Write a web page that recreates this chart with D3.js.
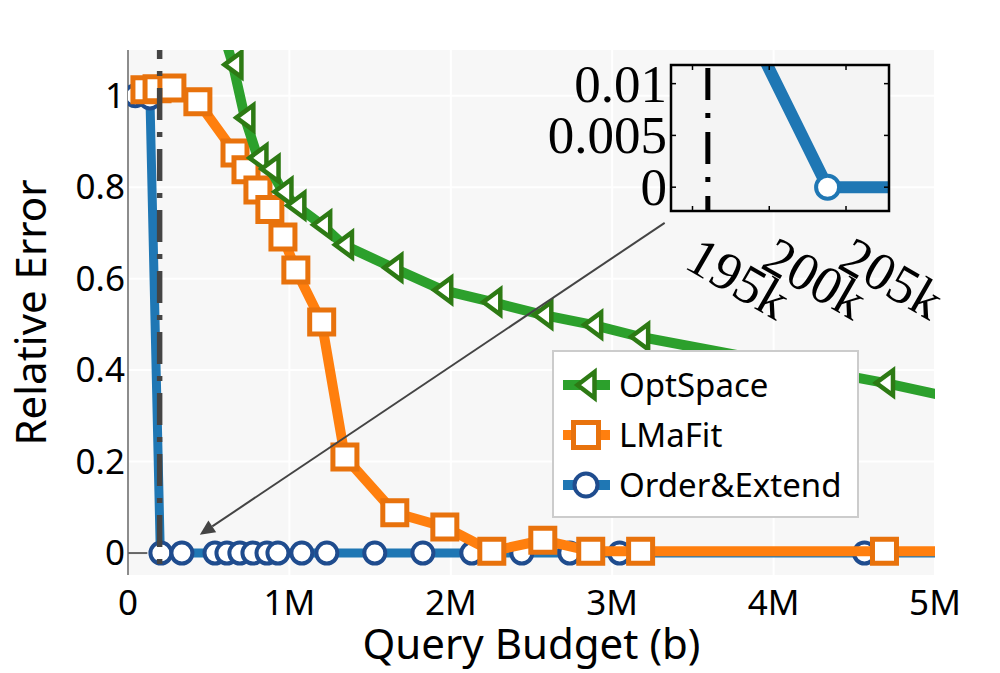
<!DOCTYPE html>
<html>
<head>
<meta charset="utf-8">
<script src="https://cdn.jsdelivr.net/npm/d3@7"></script>
<style>
  body { margin: 0; background: #fff; }
  svg { display: block; }
</style>
</head>
<body>
<div id="chart"></div>
<script>
// Ticks
var xTicks = [0, 1e6, 2e6, 3e6, 4e6, 5e6]
var xTickLabels = ['0', '1M', '2M', '3M', '4M', '5M']
var yTicks = [0, 0.2, 0.4, 0.6, 0.8, 1]
var yTickLabels = ['0', '0.2', '0.4', '0.6', '0.8', '1']

// Series (query budget, relative error)
var optSpaceX = [570000, 650000, 724000, 805000, 880000, 960000, 1040000, 1200000, 1335000, 1641000, 1950000, 2254000, 2570000, 2879000, 3170000, 4687000, 5300000]
var optSpaceY = [1.16, 1.068, 0.952, 0.864, 0.840, 0.790, 0.760, 0.718, 0.674, 0.624, 0.575, 0.549, 0.521, 0.499, 0.473, 0.372, 0.325]

var lmaFitX = [105000, 180000, 272000, 433000, 663000, 731000, 805000, 879000, 960000, 1040000, 1200000, 1344000, 1653000, 1963000, 2254000, 2570000, 2867000, 3176000, 4687000, 5300000]
var lmaFitY = [1.013, 1.015, 1.017, 0.987, 0.875, 0.838, 0.794, 0.751, 0.691, 0.619, 0.505, 0.210, 0.088, 0.057, 0.004, 0.028, 0.004, 0.004, 0.004, 0.004]

var orderX = [45000, 136000, 199300, 203800, 334000, 539000, 613000, 693000, 774000, 861000, 929000, 1077000, 1232000, 1529000, 1827000, 2130000, 2440000, 2737000, 3046000, 4563000, 5300000]
var orderY = [1.0, 0.995, 0.0135, 0, 0, 0, 0, 0, 0, 0, 0, 0, 0, 0, 0, 0, 0, 0, 0, 0, 0]
// which points carry a marker (the steep drop has an unmarked vertex)
var orderMarked = [1, 1, 0, 1, 1, 1, 1, 1, 1, 1, 1, 1, 1, 1, 1, 1, 1, 1, 1, 1, 1]

// Threshold line and annotation arrow
var threshold = 196000
var arrowFrom = [3325000, 0.722]
var arrowTo = [445000, 0.04]

// Inset ticks
var insetXTicks = [195000, 200000, 205000]
var insetXTickLabels = ['195k', '200k', '205k']
var insetYTicks = [0, 0.005, 0.01]
var insetYTickLabels = ['0', '0.005', '0.01']

var legendNames = ['OptSpace', 'LMaFit', 'Order&Extend']

// Dimensions
var width = 1000
var height = 673
var margin = { top: 50, right: 65, bottom: 98, left: 128 }
var chartWidth = width - margin.left - margin.right
var chartHeight = height - margin.top - margin.bottom

var sans = '"Noto Sans", "Open Sans", sans-serif'
var serif = '"Liberation Serif", "DejaVu Serif", serif'

var green = '#2ca02c', greenEdge = '#2d7a14'
var orange = '#ff7f0e', orangeEdge = '#e8720c'
var blue = '#1f77b4', blueEdge = '#1f4c8e'

// Scales
var xScale = d3.scaleLinear().domain([0, 5e6]).range([0, chartWidth])
var yScale = d3.scaleLinear().domain([-0.048, 1.1]).range([chartHeight, 0])

var svg = d3.select('#chart').append('svg')
  .attr('width', width)
  .attr('height', height)

var defs = svg.append('defs')
defs.append('clipPath').attr('id', 'clipMain')
  .append('rect').attr('width', chartWidth).attr('height', chartHeight)

var g = svg.append('g')
  .attr('transform', 'translate(' + margin.left + ',' + margin.top + ')')

// Background + grid
g.append('rect')
  .attr('width', chartWidth)
  .attr('height', chartHeight)
  .attr('fill', '#f7f7f7')

g.selectAll('.vgrid').data(xTicks).enter().append('line')
  .attr('x1', function (d) { return xScale(d) })
  .attr('x2', function (d) { return xScale(d) })
  .attr('y1', 0).attr('y2', chartHeight)
  .attr('stroke', '#fff').attr('stroke-width', 2)

g.selectAll('.hgrid').data(yTicks).enter().append('line')
  .attr('y1', function (d) { return yScale(d) })
  .attr('y2', function (d) { return yScale(d) })
  .attr('x1', 0).attr('x2', chartWidth)
  .attr('stroke', '#fff').attr('stroke-width', 2)

// Left spine and zero tick
g.append('line')
  .attr('x1', 0).attr('x2', 0).attr('y1', 0).attr('y2', chartHeight)
  .attr('stroke', '#666').attr('stroke-width', 1.5)
g.append('line')
  .attr('x1', 0).attr('x2', xScale(120000))
  .attr('y1', yScale(0)).attr('y2', yScale(0))
  .attr('stroke', '#666').attr('stroke-width', 2)

// Tick labels
g.selectAll('.xlab').data(xTicks).enter().append('text')
  .attr('x', function (d) { return xScale(d) })
  .attr('y', 565)
  .attr('text-anchor', 'middle')
  .style('font-family', sans).style('font-size', '35px')
  .text(function (d, i) { return xTickLabels[i] })

g.selectAll('.ylab').data(yTicks).enter().append('text')
  .attr('x', -3)
  .attr('y', function (d) { return yScale(d) + 12 })
  .attr('text-anchor', 'end')
  .style('font-family', sans).style('font-size', '35px')
  .text(function (d, i) { return yTickLabels[i] })

// Axis titles
svg.append('text')
  .attr('x', margin.left + chartWidth / 2)
  .attr('y', 659)
  .attr('text-anchor', 'middle')
  .style('font-family', sans).style('font-size', '42px')
  .text('Query Budget (b)')

svg.append('text')
  .attr('transform', 'translate(46,' + (margin.top + chartHeight / 2) + ') rotate(-90)')
  .attr('text-anchor', 'middle')
  .style('font-family', sans).style('font-size', '42px')
  .text('Relative Error')

// Marker helpers
function triPath(w, h) {
  return 'M' + (-w / 2) + ',0L' + (w / 2) + ',' + (-h / 2) + 'L' + (w / 2) + ',' + (h / 2) + 'Z'
}
function sqPath(s) {
  return 'M' + (-s / 2) + ',' + (-s / 2) + 'h' + s + 'v' + s + 'h' + (-s) + 'Z'
}

function drawSeries(parent, xs, ys, xs_, ys_, opt) {
  var pts = xs.map(function (d, i) { return [xs_(d), ys_(ys[i])] })
  parent.append('path')
    .attr('d', d3.line()(pts))
    .attr('fill', 'none')
    .attr('stroke', opt.color)
    .attr('stroke-width', opt.lw)
    .attr('stroke-linejoin', 'round')
  var marked = opt.marked ? pts.filter(function (d, i) { return opt.marked[i] }) : pts
  var m = parent.selectAll(null).data(marked).enter()
  if (opt.shape === 'circle') {
    m.append('circle')
      .attr('cx', function (d) { return d[0] })
      .attr('cy', function (d) { return d[1] })
      .attr('r', opt.r)
      .attr('fill', '#fff').attr('stroke', opt.edge).attr('stroke-width', 4)
  } else {
    m.append('path')
      .attr('d', opt.shape === 'square' ? sqPath(24) : triPath(17, 25))
      .attr('transform', function (d) { return 'translate(' + d[0] + ',' + d[1] + ')' })
      .attr('fill', '#fff').attr('stroke', opt.edge)
      .attr('stroke-width', opt.shape === 'square' ? 5 : 4.5)
  }
}

var gData = g.append('g').attr('clip-path', 'url(#clipMain)')
drawSeries(gData, orderX, orderY, xScale, yScale, { color: blue, edge: blueEdge, lw: 9, shape: 'circle', r: 10.5, marked: orderMarked })
drawSeries(gData, lmaFitX, lmaFitY, xScale, yScale, { color: orange, edge: orangeEdge, lw: 10, shape: 'square' })
drawSeries(gData, optSpaceX, optSpaceY, xScale, yScale, { color: green, edge: greenEdge, lw: 10, shape: 'tri' })

// Threshold dash-dot line
gData.append('line')
  .attr('x1', xScale(threshold)).attr('x2', xScale(threshold))
  .attr('y1', 0).attr('y2', chartHeight)
  .attr('stroke', '#444').attr('stroke-width', 5.5)
  .attr('stroke-dasharray', '32,12,5,12')
  .attr('stroke-dashoffset', 23)

// Annotation arrow
var ax0 = xScale(arrowFrom[0]), ay0 = yScale(arrowFrom[1])
var ax1 = xScale(arrowTo[0]), ay1 = yScale(arrowTo[1])
var ang = Math.atan2(ay1 - ay0, ax1 - ax0)
var headLen = 15, headW = 7
g.append('line')
  .attr('x1', ax0).attr('y1', ay0)
  .attr('x2', ax1 - Math.cos(ang) * headLen).attr('y2', ay1 - Math.sin(ang) * headLen)
  .attr('stroke', '#444').attr('stroke-width', 2)
g.append('path')
  .attr('d', 'M0,0L' + (-headLen) + ',' + (-headW) + 'L' + (-headLen) + ',' + headW + 'Z')
  .attr('transform', 'translate(' + ax1 + ',' + ay1 + ') rotate(' + (ang * 180 / Math.PI) + ')')
  .attr('fill', '#444')

// Legend
var lg = g.append('g').attr('transform', 'translate(' + (553 - margin.left) + ',' + (351 - margin.top) + ')')
lg.append('rect')
  .attr('width', 305).attr('height', 166)
  .attr('fill', '#fff').attr('stroke', '#ccc').attr('stroke-width', 2)
var legendStyles = [
  { color: green, edge: greenEdge, shape: 'tri' },
  { color: orange, edge: orangeEdge, shape: 'square' },
  { color: blue, edge: blueEdge, shape: 'circle' }
]
legendNames.forEach(function (name, i) {
  var row = lg.append('g').attr('transform', 'translate(0,' + (34 + i * 50) + ')')
  var st = legendStyles[i]
  row.append('line')
    .attr('x1', 10).attr('x2', 57).attr('y1', 0).attr('y2', 0)
    .attr('stroke', st.color).attr('stroke-width', 10)
  if (st.shape === 'circle') {
    row.append('circle').attr('cx', 33).attr('cy', 0).attr('r', 11.5)
      .attr('fill', '#fff').attr('stroke', st.edge).attr('stroke-width', 4)
  } else {
    row.append('path')
      .attr('d', st.shape === 'square' ? sqPath(25) : triPath(17, 26))
      .attr('transform', 'translate(33,0)')
      .attr('fill', '#fff').attr('stroke', st.edge)
      .attr('stroke-width', st.shape === 'square' ? 5 : 4.5)
  }
  row.append('text')
    .attr('x', 66).attr('y', 12)
    .style('font-family', sans).style('font-size', '33px')
    .text(name)
})

// Inset
var inset = { x: 671, y: 65, w: 218, h: 146 }
var xi = d3.scaleLinear().domain([193600, 207800]).range([0, inset.w])
var yi = d3.scaleLinear().domain([-0.0023, 0.0118]).range([inset.h, 0])

defs.append('clipPath').attr('id', 'clipInset')
  .append('rect').attr('width', inset.w).attr('height', inset.h)

var gi = svg.append('g').attr('transform', 'translate(' + inset.x + ',' + inset.y + ')')
gi.append('rect').attr('width', inset.w).attr('height', inset.h).attr('fill', '#f4f4f4')

var giData = gi.append('g').attr('clip-path', 'url(#clipInset)')
drawSeries(giData, orderX, orderY, xi, yi, { color: blue, edge: blue, lw: 12, shape: 'circle', r: 11.5 })
giData.append('line')
  .attr('x1', xi(threshold)).attr('x2', xi(threshold))
  .attr('y1', 3).attr('y2', inset.h)
  .attr('stroke', '#000').attr('stroke-width', 5)
  .attr('stroke-dasharray', '32,13,5,14')

// Inset ticks (inward, all sides)
insetXTicks.forEach(function (t) {
  gi.append('line').attr('x1', xi(t)).attr('x2', xi(t)).attr('y1', 0).attr('y2', 5)
    .attr('stroke', '#000').attr('stroke-width', 1.5)
  gi.append('line').attr('x1', xi(t)).attr('x2', xi(t)).attr('y1', inset.h).attr('y2', inset.h - 5)
    .attr('stroke', '#000').attr('stroke-width', 1.5)
})
insetYTicks.forEach(function (t) {
  gi.append('line').attr('x1', 0).attr('x2', 5).attr('y1', yi(t)).attr('y2', yi(t))
    .attr('stroke', '#000').attr('stroke-width', 1.5)
  gi.append('line').attr('x1', inset.w).attr('x2', inset.w - 5).attr('y1', yi(t)).attr('y2', yi(t))
    .attr('stroke', '#000').attr('stroke-width', 1.5)
})
gi.append('rect').attr('width', inset.w).attr('height', inset.h)
  .attr('fill', 'none').attr('stroke', '#000').attr('stroke-width', 2.5)

gi.selectAll('.iy').data(insetYTicks).enter().append('text')
  .attr('x', -4)
  .attr('y', function (d) { return yi(d) + 18 })
  .attr('text-anchor', 'end')
  .style('font-family', serif).style('font-size', '53px')
  .text(function (d, i) { return insetYTickLabels[i] })

gi.selectAll('.ix').data(insetXTicks).enter().append('text')
  .attr('transform', function (d) { return 'translate(' + (xi(d) - 10) + ',' + (inset.h + 56) + ') rotate(30)' })
  .attr('text-anchor', 'start')
  .style('font-family', serif).style('font-size', '54px')
  .text(function (d, i) { return insetXTickLabels[i] })
</script>
</body>
</html>
